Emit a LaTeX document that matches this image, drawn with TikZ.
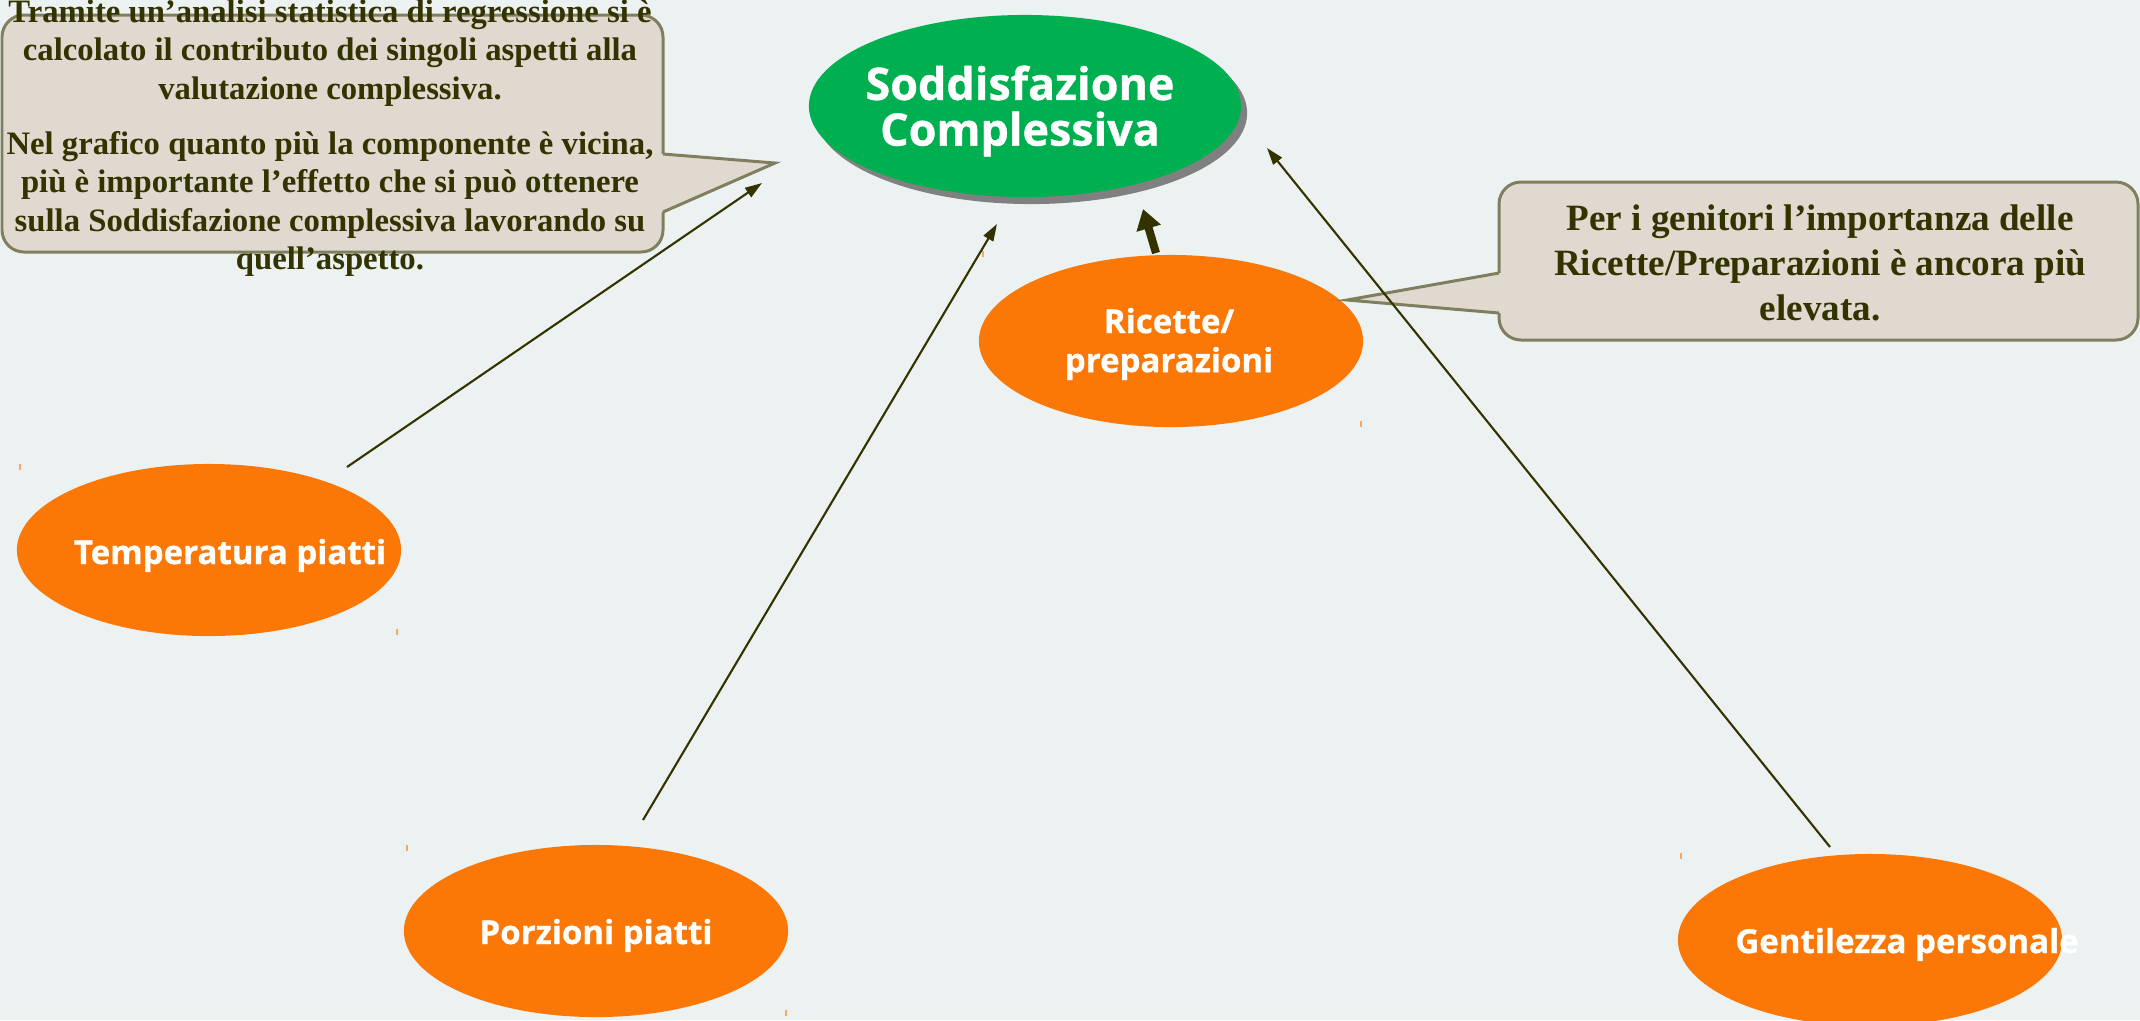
\documentclass[tikz,border=0pt]{standalone}
\usepackage{fontspec}
\setmainfont{Liberation Serif}
\newfontfamily\labelsans{Open Sans}[BoldFeatures={FakeBold=0.8}]
\usetikzlibrary{arrows.meta,shapes.geometric,shadows}

\definecolor{bgpale}{HTML}{ECF2F2}
\definecolor{satgreen}{HTML}{00B050}
\definecolor{ovalorange}{HTML}{FB7806}
\definecolor{darkolive}{HTML}{333300}
\definecolor{notefill}{HTML}{E0D9D0}
\definecolor{noteedge}{HTML}{7F7F5F}
\definecolor{tickorange}{HTML}{F7A868}

\begin{document}
\begin{tikzpicture}[x=0.01cm,y=-0.01cm,
  factor/.style={ellipse, fill=ovalorange, draw=none, minimum width=3.84cm,
    minimum height=1.72cm, inner sep=0pt},
  factortext/.style={text=white, font=\labelsans\bfseries\fontsize{9.4}{11.1}\selectfont,
    align=center, inner sep=0pt},
  link/.style={draw=darkolive, line width=0.6pt, -{Triangle[length=0.17cm,width=0.11cm]}},
  boldlink/.style={draw=darkolive, line width=2.3pt, -{Triangle[length=0.2cm,width=0.24cm]}},
  notebox/.style={fill=notefill, draw=noteedge, line width=0.85pt, rounded corners=0.22cm},
  notetail/.style={draw=noteedge, line width=0.85pt, line join=miter},
  notetext/.style={text=darkolive, align=center, inner sep=0pt},
  tickmark/.style={draw=tickorange, line width=0.5pt}]

% canvas
\fill[bgpale] (0,0) rectangle (2140,1020);
\useasboundingbox (0,0) rectangle (2140,1020);

% central outcome
\node[ellipse, fill=satgreen, minimum width=4.32cm, minimum height=1.82cm, inner sep=0pt,
  drop shadow={shadow xshift=0.06cm, shadow yshift=-0.07cm, fill=gray, opacity=1}]
  (overall) at (1025,106) {};
\node[text=white, font=\labelsans\bfseries\fontsize{12.75}{13}\selectfont, align=center,
  inner sep=0pt] (overalltext) at (1020,111) {Soddisfazione\\Complessiva};

% drivers
\node[factor] (recipes) at (1171,341) {};
\node[factortext] (recipestext) at (1169,344) {Ricette/\\preparazioni};
\node[factor] (temp) at (209,550) {};
\node[factortext, anchor=base] (temptext) at (230,564) {Temperatura piatti};
\node[factor] (portions) at (596,931) {};
\node[factortext, anchor=base] (portionstext) at (596,944) {Porzioni piatti};
\node[factor] (kindness) at (1870,940) {};
\node[factortext, anchor=base] (kindnesstext) at (1907,953) {Gentilezza personale};

% text-box corner marks
\draw[tickmark] (20,464) -- (20,470);
\draw[tickmark] (397,629) -- (397,635);
\draw[tickmark] (407,845) -- (407,851);
\draw[tickmark] (786,1010) -- (786,1016);
\draw[tickmark] (983,251) -- (983,257);
\draw[tickmark] (1361,421) -- (1361,427);
\draw[tickmark] (1681,853) -- (1681,859);

% left note
\path[notebox] (2,15) rectangle (663,252);
\fill[notefill] (655,154) -- (663,154) -- (775,163) -- (663,212) -- (655,212) -- cycle;
\draw[notetail] (663,154) -- (775,163) -- (663,212);
\node[notetext, font=\bfseries\fontsize{9.3}{10.9}\selectfont] (methodnote) at (330,138)
  {Tramite un’analisi statistica di regressione si è\\
   calcolato il contributo dei singoli aspetti alla\\
   valutazione complessiva.\\[4.8pt]
   Nel grafico quanto più la componente è vicina,\\
   più è importante l’effetto che si può ottenere\\
   sulla Soddisfazione complessiva lavorando su\\
   quell’aspetto.};

% right note
\path[notebox] (1499,182) rectangle (2138,340);
\fill[notefill] (1507,273) -- (1499,273) -- (1347,300) -- (1499,313) -- (1507,313) -- cycle;
\draw[notetail] (1499,273) -- (1347,300) -- (1499,313);
\node[notetext, font=\bfseries\fontsize{10.55}{12.8}\selectfont] (parentsnote) at (1820,263)
  {Per i genitori l’importanza delle\\
   Ricette/Preparazioni è ancora più\\
   elevata.};

% connector ends
\coordinate (tempout) at ([shift={(138,-83)}]temp.center);
\coordinate (portionsout) at ([shift={(47,-111)}]portions.center);
\coordinate (kindnessout) at ([shift={(-40,-93)}]kindness.center);
\coordinate (recipesout) at ([shift={(-15,-88)}]recipes.center);
\coordinate (tempin) at ([shift={(-263,77)}]overall.center);
\coordinate (portionsin) at ([shift={(-28,118)}]overall.center);
\coordinate (kindnessin) at ([shift={(242,42)}]overall.center);
\coordinate (recipesin) at ([shift={(118,103)}]overall.center);

% connectors
\draw[link] (tempout) -- (tempin);
\draw[link] (portionsout) -- (portionsin);
\draw[link] (kindnessout) -- (kindnessin);
\draw[boldlink] (recipesout) -- (recipesin);
\end{tikzpicture}
\end{document}
